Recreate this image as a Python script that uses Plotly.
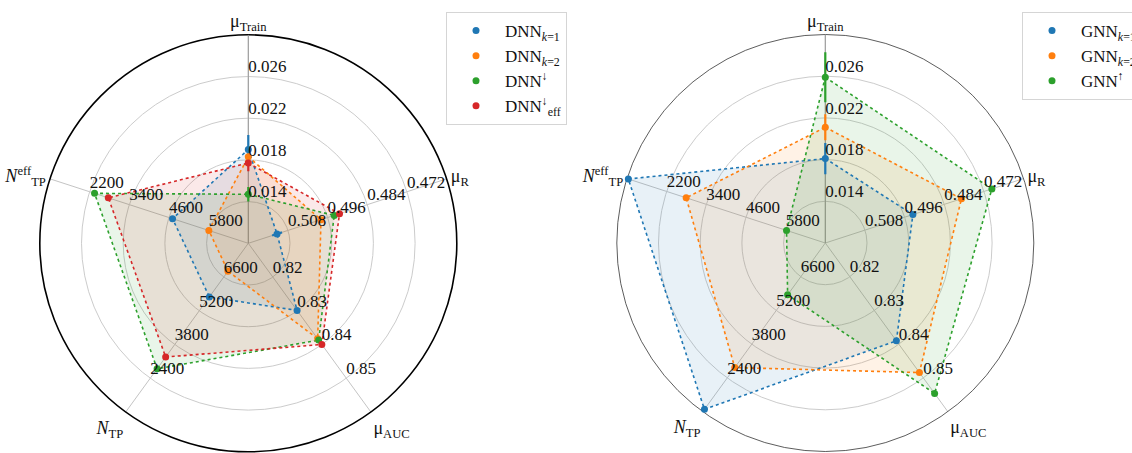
import plotly.graph_objects as go

# ---------------- data ----------------
axis_labels = ["μ<sub>Train</sub>", "μ<sub>R</sub>", "μ<sub>AUC</sub>",
               "<i>N</i><sub>TP</sub>", "<i>N</i><sup>eff</sup><sub>TP</sub>"]
axis_angles = [90, 18, 306, 234, 162]
# value at centre and at outer ring for each axis
axis_lo = [0.010, 0.520, 0.81, 8000, 7000]
axis_hi = [0.030, 0.460, 0.86, 1000, 1000]

train_ticks = [0.014, 0.018, 0.022, 0.026]
r_ticks = [0.508, 0.496, 0.484, 0.472]
auc_ticks = [0.82, 0.83, 0.84, 0.85]
ntp_ticks = [6600, 5200, 3800, 2400]
eff_ticks = [5800, 4600, 3400, 2200]
tick_texts = [["0.014", "0.018", "0.022", "0.026"],
              ["0.508", "0.496", "0.484", "0.472"],
              ["0.82", "0.83", "0.84", "0.85"],
              ["6600", "5200", "3800", "2400"],
              ["5800", "4600", "3400", "2200"]]

# order: mu_Train, mu_R, mu_AUC, N_TP, N_TP_eff
dnn_k1 = [0.0190, 0.5113, 0.8299, 5774, 4708]
dnn_k2 = [0.0183, 0.4980, 0.8383, 6840, 5806]
dnn_down = [0.0147, 0.4940, 0.8387, 2792, 2348]
dnn_down_eff = [0.0177, 0.4924, 0.8400, 3280, 2764]
dnn_k1_err = [0.0014, 0.0015, 0, 0, 0]
dnn_k2_err = [0.0003, 0, 0, 0, 0]
dnn_down_err = [0.0007, 0, 0, 0, 0]
dnn_down_eff_err = [0.0008, 0, 0, 0, 0]

gnn_k1 = [0.0181, 0.4935, 0.8390, 1097, 1040]
gnn_k2 = [0.0211, 0.4788, 0.8484, 2830, 2790]
gnn_up = [0.0259, 0.4696, 0.8546, 5848, 5827]
gnn_k1_err = [0.0015, 0, 0, 0, 0]
gnn_k2_err = [0.00125, 0, 0, 0, 0]
gnn_up_err = [0.0024, 0, 0, 0, 0]

dnn_names = ["DNN<sub><i>k</i>=1</sub>", "DNN<sub><i>k</i>=2</sub>",
             "DNN<sup>↓</sup>", "DNN<sup>↓</sup><sub>eff</sub>"]
gnn_names = ["GNN<sub><i>k</i>=1</sub>", "GNN<sub><i>k</i>=2</sub>", "GNN<sup>↑</sup>"]
colors = ["#1f77b4", "#ff7f0e", "#2ca02c", "#d62728"]
fills = ["rgba(31,119,180,0.1)", "rgba(255,127,14,0.1)",
         "rgba(44,160,44,0.1)", "rgba(214,39,40,0.1)"]

FONT = "Liberation Serif"
N_RINGS = 5


def to_r(value, i):
    return (value - axis_lo[i]) / (axis_hi[i] - axis_lo[i]) * N_RINGS


def scale_err(err, i):
    return abs(err / (axis_hi[i] - axis_lo[i]) * N_RINGS)


fig = go.Figure()


def add_panel(series, errs, names, subplot, legend):
    rs = [[to_r(v, i) for i, v in enumerate(s)] for s in series]
    # fills
    for k, r in enumerate(rs):
        fig.add_trace(go.Scatterpolar(r=r + [r[0]], theta=axis_angles + [axis_angles[0]],
                                      mode="lines", fill="toself", fillcolor=fills[k],
                                      line=dict(width=0, color=fills[k]),
                                      hoverinfo="skip", showlegend=False, subplot=subplot))
    # dotted outlines
    for k, r in enumerate(rs):
        fig.add_trace(go.Scatterpolar(r=r + [r[0]], theta=axis_angles + [axis_angles[0]],
                                      mode="lines", line=dict(color=colors[k], width=1.6, dash="dot"),
                                      hoverinfo="skip", showlegend=False, subplot=subplot))
    # error bars
    for k, r in enumerate(rs):
        er, et = [], []
        for i, e in enumerate(errs[k]):
            if e > 0:
                d = scale_err(e, i)
                er += [r[i] - d, r[i] + d, None]
                et += [axis_angles[i], axis_angles[i], None]
        if er:
            fig.add_trace(go.Scatterpolar(r=er, theta=et, mode="lines",
                                          line=dict(color=colors[k], width=2.2),
                                          hoverinfo="skip", showlegend=False, subplot=subplot))
    # markers
    for k, r in enumerate(rs):
        fig.add_trace(go.Scatterpolar(r=r, theta=axis_angles, mode="markers", name=names[k],
                                      marker=dict(color=colors[k], size=7),
                                      showlegend=True, legend=legend, subplot=subplot))
    # per-axis tick labels
    all_ticks = [train_ticks, r_ticks, auc_ticks, ntp_ticks, eff_ticks]
    tr, tt, tx = [], [], []
    for i, ticks in enumerate(all_ticks):
        for j, t in enumerate(ticks):
            tr.append(to_r(t, i))
            tt.append(axis_angles[i])
            tx.append(tick_texts[i][j])
    fig.add_trace(go.Scatterpolar(r=tr, theta=tt, mode="text", text=tx,
                                  textposition="top right",
                                  textfont=dict(family=FONT, size=17, color="#111"),
                                  hoverinfo="skip", showlegend=False, subplot=subplot))


add_panel([dnn_k1, dnn_k2, dnn_down, dnn_down_eff],
          [dnn_k1_err, dnn_k2_err, dnn_down_err, dnn_down_eff_err],
          dnn_names, "polar", "legend")
add_panel([gnn_k1, gnn_k2, gnn_up],
          [gnn_k1_err, gnn_k2_err, gnn_up_err],
          gnn_names, "polar2", "legend2")

W, H = 1132, 453
R = 208.5


def polar_layout(cx, cy, outer_color, outer_width):
    return dict(
        domain=dict(x=[(cx - R) / W, (cx + R) / W],
                    y=[(H - cy - R) / H, (H - cy + R) / H]),
        bgcolor="white",
        angularaxis=dict(rotation=0, direction="counterclockwise",
                         tickmode="array", tickvals=axis_angles, ticktext=axis_labels,
                         showline=True, linecolor=outer_color, linewidth=outer_width,
                         showgrid=True, gridcolor="#c4c4c4", gridwidth=0.8,
                         ticks="", layer="below traces",
                         tickfont=dict(family=FONT, size=18, color="#111")),
        radialaxis=dict(range=[0, N_RINGS], tickmode="array", tickvals=[1, 2, 3, 4],
                        showticklabels=False, ticks="", showgrid=True,
                        gridcolor="#cccccc", gridwidth=0.8,
                        showline=True, angle=90, linecolor="#999999", linewidth=1,
                        layer="below traces"),
    )


legend_style = dict(xanchor="left", yanchor="top", bgcolor="rgba(255,255,255,0.9)",
                    bordercolor="#d5d5d5", borderwidth=1, itemwidth=48,
                    tracegroupgap=4,
                    font=dict(family=FONT, size=17, color="#111"))

fig.update_layout(
    width=W, height=H,
    margin=dict(l=0, r=0, t=0, b=0, autoexpand=False),
    paper_bgcolor="white",
    polar=polar_layout(248.3, 243.3, "black", 1.6),
    polar2=polar_layout(825.3, 243.0, "#333333", 0.8),
    legend=dict(x=446 / W, y=1 - 12 / H, **legend_style),
    legend2=dict(x=1022 / W, y=1 - 12 / H, **legend_style),
)

fig.write_html("out.html", config={"displayModeBar": False},
               post_script="document.body.style.margin='0';document.body.style.overflow='hidden';")
